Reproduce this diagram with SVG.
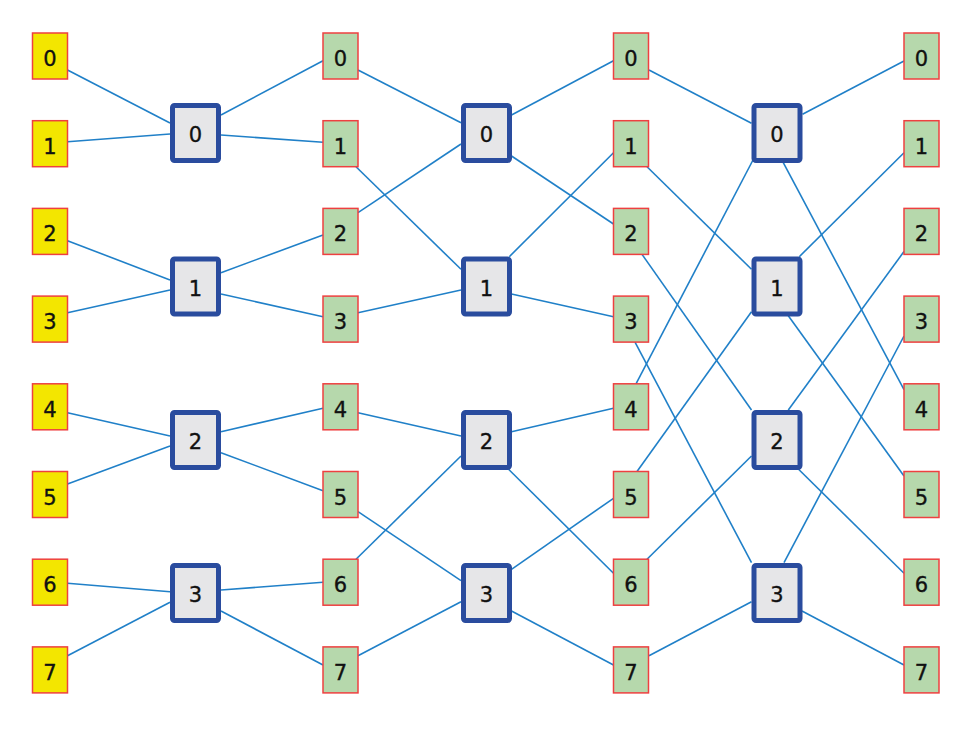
<svg xmlns="http://www.w3.org/2000/svg" width="977" height="750" viewBox="0 0 977 750">
<style>
.c line{stroke:#2080c8;stroke-width:1.6;fill:none}
.in{fill:#f3e600;stroke:#ee4040;stroke-width:1.5}
.pt{fill:#b6d8ac;stroke:#ee4040;stroke-width:1.5}
.sw{fill:#e6e6e8;stroke:#2a4c9e;stroke-width:5}
text{font-family:"DejaVu Sans","Liberation Sans",Arial,sans-serif;font-size:21px;fill:#111;stroke:#111;stroke-width:0.35;text-anchor:middle}
</style>
<rect width="977" height="750" fill="#ffffff"/>
<g id="connectors" class="c">
<line x1="67.5" y1="70" x2="170" y2="123"/>
<line x1="67.5" y1="141.7" x2="170" y2="134"/>
<line x1="221" y1="115" x2="323" y2="60.7"/>
<line x1="221" y1="135" x2="323" y2="142.3"/>
<line x1="67.5" y1="240.7" x2="170" y2="280"/>
<line x1="67.5" y1="312.7" x2="170" y2="290"/>
<line x1="221" y1="272.7" x2="323" y2="235"/>
<line x1="221" y1="294" x2="323" y2="316.7"/>
<line x1="67.5" y1="412.7" x2="170" y2="436"/>
<line x1="67.5" y1="484" x2="170" y2="446"/>
<line x1="221" y1="431.7" x2="323" y2="408.3"/>
<line x1="221" y1="452.7" x2="323" y2="490.7"/>
<line x1="67.5" y1="583.3" x2="170" y2="591.7"/>
<line x1="67.5" y1="655.7" x2="170" y2="602.3"/>
<line x1="221" y1="590" x2="323" y2="582.3"/>
<line x1="221" y1="611" x2="323" y2="665"/>
<line x1="358" y1="70" x2="461" y2="122.7"/>
<line x1="358" y1="212.7" x2="461" y2="144"/>
<line x1="511.5" y1="115" x2="613.5" y2="60.7"/>
<line x1="511.5" y1="156" x2="613.5" y2="224"/>
<line x1="356" y1="166.7" x2="461" y2="269.3"/>
<line x1="358" y1="312.7" x2="461" y2="290"/>
<line x1="509.3" y1="256.7" x2="613.5" y2="152.7"/>
<line x1="511.5" y1="294" x2="613.5" y2="316.7"/>
<line x1="358" y1="412.7" x2="461" y2="436"/>
<line x1="356" y1="559.2" x2="461" y2="456"/>
<line x1="511.5" y1="431.7" x2="613.5" y2="408.3"/>
<line x1="508.3" y1="469" x2="613.5" y2="573.3"/>
<line x1="358" y1="511.7" x2="461" y2="580.7"/>
<line x1="358" y1="655.7" x2="461" y2="601.7"/>
<line x1="511.5" y1="569.3" x2="613.5" y2="498.3"/>
<line x1="511.5" y1="611" x2="613.5" y2="665"/>
<line x1="649" y1="70" x2="751.5" y2="123.3"/>
<line x1="636" y1="383.8" x2="753" y2="160"/>
<line x1="802.5" y1="114.3" x2="904" y2="61"/>
<line x1="783.3" y1="162.7" x2="904" y2="389.6"/>
<line x1="647" y1="166.7" x2="751.5" y2="269.3"/>
<line x1="637" y1="471.5" x2="751.5" y2="311.7"/>
<line x1="799.3" y1="256.7" x2="904" y2="152.7"/>
<line x1="788.3" y1="315.7" x2="904" y2="476"/>
<line x1="642" y1="254.4" x2="751.5" y2="410"/>
<line x1="647" y1="559.2" x2="751.5" y2="456"/>
<line x1="788.3" y1="410" x2="904" y2="251.5"/>
<line x1="798.3" y1="469" x2="904" y2="573.3"/>
<line x1="635" y1="342.1" x2="751.5" y2="562.7"/>
<line x1="649" y1="655.7" x2="751.5" y2="601.7"/>
<line x1="784" y1="562.7" x2="904" y2="336"/>
<line x1="802" y1="611" x2="904" y2="665"/>
</g>
<g id="A0"><rect class="in" x="32.5" y="33" width="35" height="46"/><text x="50" y="66">0</text></g>
<g id="A1"><rect class="in" x="32.5" y="120.7" width="35" height="46"/><text x="50" y="153.7">1</text></g>
<g id="A2"><rect class="in" x="32.5" y="208.4" width="35" height="46"/><text x="50" y="241.4">2</text></g>
<g id="A3"><rect class="in" x="32.5" y="296.1" width="35" height="46"/><text x="50" y="329.1">3</text></g>
<g id="A4"><rect class="in" x="32.5" y="383.8" width="35" height="46"/><text x="50" y="416.8">4</text></g>
<g id="A5"><rect class="in" x="32.5" y="471.5" width="35" height="46"/><text x="50" y="504.5">5</text></g>
<g id="A6"><rect class="in" x="32.5" y="559.2" width="35" height="46"/><text x="50" y="592.2">6</text></g>
<g id="A7"><rect class="in" x="32.5" y="646.9" width="35" height="46"/><text x="50" y="679.9">7</text></g>
<g id="B0"><rect class="pt" x="323" y="33" width="35" height="46"/><text x="340.5" y="66">0</text></g>
<g id="B1"><rect class="pt" x="323" y="120.7" width="35" height="46"/><text x="340.5" y="153.7">1</text></g>
<g id="B2"><rect class="pt" x="323" y="208.4" width="35" height="46"/><text x="340.5" y="241.4">2</text></g>
<g id="B3"><rect class="pt" x="323" y="296.1" width="35" height="46"/><text x="340.5" y="329.1">3</text></g>
<g id="B4"><rect class="pt" x="323" y="383.8" width="35" height="46"/><text x="340.5" y="416.8">4</text></g>
<g id="B5"><rect class="pt" x="323" y="471.5" width="35" height="46"/><text x="340.5" y="504.5">5</text></g>
<g id="B6"><rect class="pt" x="323" y="559.2" width="35" height="46"/><text x="340.5" y="592.2">6</text></g>
<g id="B7"><rect class="pt" x="323" y="646.9" width="35" height="46"/><text x="340.5" y="679.9">7</text></g>
<g id="C0"><rect class="pt" x="613.5" y="33" width="35" height="46"/><text x="631" y="66">0</text></g>
<g id="C1"><rect class="pt" x="613.5" y="120.7" width="35" height="46"/><text x="631" y="153.7">1</text></g>
<g id="C2"><rect class="pt" x="613.5" y="208.4" width="35" height="46"/><text x="631" y="241.4">2</text></g>
<g id="C3"><rect class="pt" x="613.5" y="296.1" width="35" height="46"/><text x="631" y="329.1">3</text></g>
<g id="C4"><rect class="pt" x="613.5" y="383.8" width="35" height="46"/><text x="631" y="416.8">4</text></g>
<g id="C5"><rect class="pt" x="613.5" y="471.5" width="35" height="46"/><text x="631" y="504.5">5</text></g>
<g id="C6"><rect class="pt" x="613.5" y="559.2" width="35" height="46"/><text x="631" y="592.2">6</text></g>
<g id="C7"><rect class="pt" x="613.5" y="646.9" width="35" height="46"/><text x="631" y="679.9">7</text></g>
<g id="D0"><rect class="pt" x="904" y="33" width="35" height="46"/><text x="921.5" y="66">0</text></g>
<g id="D1"><rect class="pt" x="904" y="120.7" width="35" height="46"/><text x="921.5" y="153.7">1</text></g>
<g id="D2"><rect class="pt" x="904" y="208.4" width="35" height="46"/><text x="921.5" y="241.4">2</text></g>
<g id="D3"><rect class="pt" x="904" y="296.1" width="35" height="46"/><text x="921.5" y="329.1">3</text></g>
<g id="D4"><rect class="pt" x="904" y="383.8" width="35" height="46"/><text x="921.5" y="416.8">4</text></g>
<g id="D5"><rect class="pt" x="904" y="471.5" width="35" height="46"/><text x="921.5" y="504.5">5</text></g>
<g id="D6"><rect class="pt" x="904" y="559.2" width="35" height="46"/><text x="921.5" y="592.2">6</text></g>
<g id="D7"><rect class="pt" x="904" y="646.9" width="35" height="46"/><text x="921.5" y="679.9">7</text></g>
<g id="S1_0"><rect class="sw" x="172.5" y="105.5" width="46" height="55" rx="2"/><text x="195.5" y="142">0</text></g>
<g id="S1_1"><rect class="sw" x="172.5" y="259" width="46" height="55" rx="2"/><text x="195.5" y="295.5">1</text></g>
<g id="S1_2"><rect class="sw" x="172.5" y="412.5" width="46" height="55" rx="2"/><text x="195.5" y="449">2</text></g>
<g id="S1_3"><rect class="sw" x="172.5" y="565.5" width="46" height="55" rx="2"/><text x="195.5" y="602">3</text></g>
<g id="S2_0"><rect class="sw" x="463.5" y="105.5" width="46" height="55" rx="2"/><text x="486.5" y="142">0</text></g>
<g id="S2_1"><rect class="sw" x="463.5" y="259" width="46" height="55" rx="2"/><text x="486.5" y="295.5">1</text></g>
<g id="S2_2"><rect class="sw" x="463.5" y="412.5" width="46" height="55" rx="2"/><text x="486.5" y="449">2</text></g>
<g id="S2_3"><rect class="sw" x="463.5" y="565.5" width="46" height="55" rx="2"/><text x="486.5" y="602">3</text></g>
<g id="S3_0"><rect class="sw" x="754" y="105.5" width="46" height="55" rx="2"/><text x="777" y="142">0</text></g>
<g id="S3_1"><rect class="sw" x="754" y="259" width="46" height="55" rx="2"/><text x="777" y="295.5">1</text></g>
<g id="S3_2"><rect class="sw" x="754" y="412.5" width="46" height="55" rx="2"/><text x="777" y="449">2</text></g>
<g id="S3_3"><rect class="sw" x="754" y="565.5" width="46" height="55" rx="2"/><text x="777" y="602">3</text></g>
</svg>
